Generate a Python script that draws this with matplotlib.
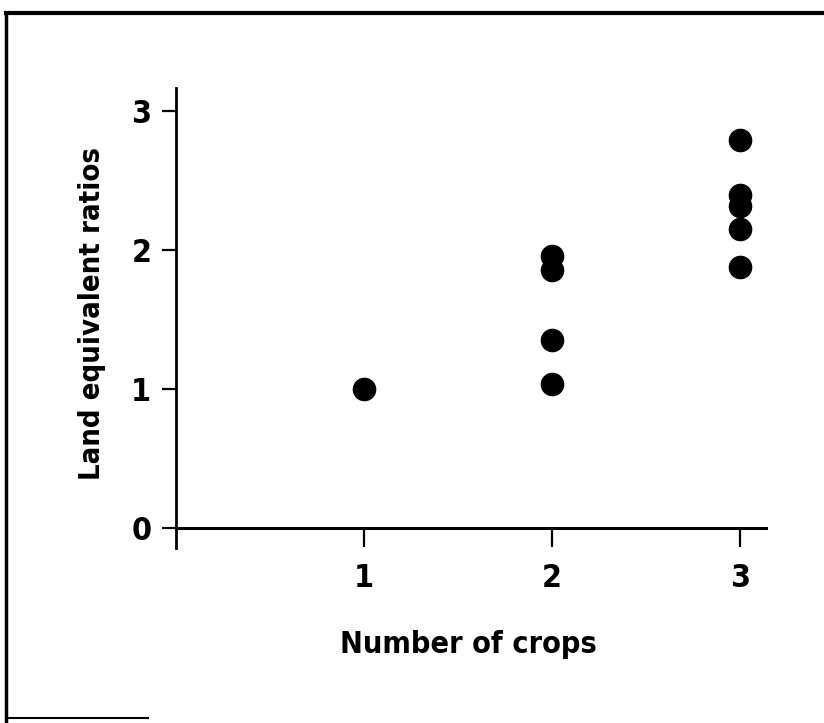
import matplotlib
matplotlib.use('Agg')
import matplotlib.pyplot as plt
from matplotlib.lines import Line2D

cropsOne = [1]
lerOne = [1.00]
cropsTwo = [2, 2, 2, 2]
lerTwo = [1.96, 1.86, 1.35, 1.04]
cropsThree = [3, 3, 3, 3, 3]
lerThree = [2.79, 2.40, 2.32, 2.15, 1.88]

xTicks = [1, 2, 3]
yTicks = [0, 1, 2, 3]

plt.rcParams['font.family'] = ['DejaVu Sans']
plt.rcParams['font.stretch'] = 'condensed'
plt.rcParams['font.weight'] = 'bold'

fig = plt.figure(figsize=(8.24, 7.23), dpi=100)
ax = fig.add_axes([0.214, 0.242, 0.716, 0.636])

for xs, ys in [(cropsOne, lerOne), (cropsTwo, lerTwo), (cropsThree, lerThree)]:
    ax.plot(xs, ys, 'o', color='black', markersize=16, linestyle='none', clip_on=False)

ax.set_xlim(0, 3.14)
ax.set_ylim(-0.144, 3.166)
ax.spines['top'].set_visible(False)
ax.spines['right'].set_visible(False)
ax.spines['bottom'].set_position(('data', 0))
ax.spines['left'].set_linewidth(2)
ax.spines['bottom'].set_linewidth(2.2)

ax.set_xticks(xTicks)
ax.set_yticks(yTicks)
ax.tick_params(axis='x', direction='out', length=14, width=1.6, pad=11, labelsize=23)
ax.tick_params(axis='y', direction='out', length=10, width=1.6, pad=8, labelsize=23)
for lbl in ax.get_xticklabels() + ax.get_yticklabels():
    lbl.set_fontweight('bold')

ax.set_xlabel('Number of crops', fontsize=22, fontweight='bold')
ax.set_ylabel('Land equivalent ratios', fontsize=21, fontweight='bold')
ax.xaxis.set_label_coords(0.495, -0.178)
ax.yaxis.set_label_coords(-0.12, 0.509)

# frame around the scanned figure
fig.add_artist(Line2D([0.007, 0.007], [0.0, 0.982], transform=fig.transFigure, color='black', lw=2.5))
fig.add_artist(Line2D([0.007, 1.0], [0.982, 0.982], transform=fig.transFigure, color='black', lw=3))
fig.add_artist(Line2D([0.007, 0.18], [0.007, 0.007], transform=fig.transFigure, color='black', lw=1.5))

fig.savefig('out.png', dpi=100)
